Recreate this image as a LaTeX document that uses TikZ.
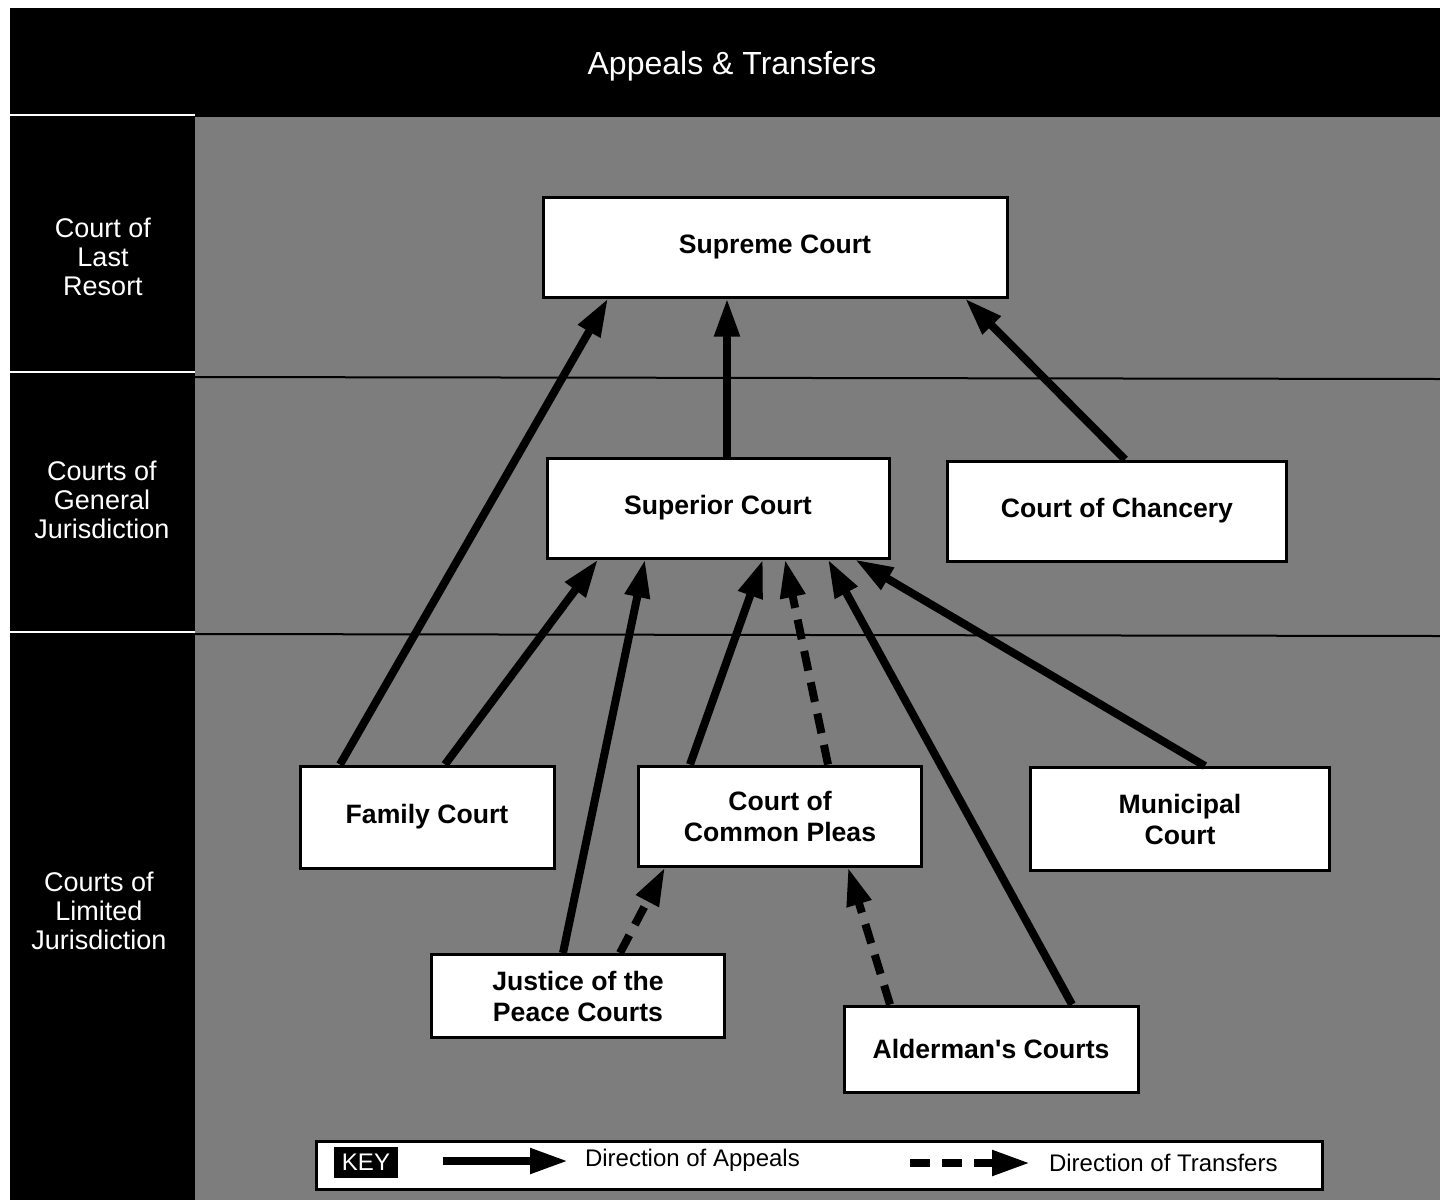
\documentclass[tikz,border=0pt]{standalone}
\usepackage{fontspec}
\setmainfont{Liberation Sans}
\usetikzlibrary{arrows.meta,positioning,calc}
\definecolor{screen}{gray}{0.49}

\begin{document}
\begin{tikzpicture}[
    x=0.5pt, y=-0.5pt,
    court/.style={draw, line width=1.5pt, fill=white, inner sep=0pt, align=center, font=\fontsize{13.3}{15.5}\selectfont\bfseries},
    tier/.style={text=white, align=center, font=\fontsize{13.5}{14.5}\selectfont},
    keytext/.style={anchor=west, font=\fontsize{12}{14}\selectfont},
    appeal/.style={line width=4pt, -{Triangle[length=19pt,width=12pt]}},
    transfer/.style={appeal, dash pattern=on 10pt off 6pt}
]
\useasboundingbox (0,0) rectangle (1440,1200);

% frame and shaded field
\fill[black] (10,8) rectangle (1440,1200);
\fill[screen] (195,117) rectangle (1440,1200);
\draw[white, line width=1pt] (10,115) -- (195,115);
\draw[white, line width=1pt] (10,372) -- (195,372);
\draw[white, line width=1pt] (10,632) -- (195,632);
\draw[black, line width=1pt] (195,377) -- (1440,379);
\draw[black, line width=1pt] (195,634) -- (1440,636);

\node[text=white, font=\fontsize{16}{18}\selectfont] (title) at (732,66) {Appeals \& Transfers};
\node[tier] (last) at (103,257) {Court of\\Last\\Resort};
\node[tier] (general) at (102,500) {Courts of\\General\\Jurisdiction};
\node[tier] (limited) at (99,911) {Courts of\\Limited\\Jurisdiction};

% courts
\node[court, minimum width=232pt, minimum height=50pt] (supreme) at (775,247) {Supreme Court};
\node[court, minimum width=171pt, minimum height=50pt] (superior) at (718,508) {Superior Court};
\node[court, minimum width=169.5pt, minimum height=50pt] (chancery) at (1117,511) {Court of Chancery};
\node[court, minimum width=127pt, minimum height=51pt] (family) at (427,817) {Family Court};
\node[court, minimum width=141.5pt, minimum height=50pt] (pleas) at (780,816) {Court of\\Common Pleas};
\node[court, minimum width=149.5pt, minimum height=51.5pt] (municipal) at (1180,819) {Municipal\\Court};
\node[court, minimum width=146.5pt, minimum height=41.5pt] (peace) at (578,996) {Justice of the\\Peace Courts};
\node[court, minimum width=147pt, minimum height=43pt] (alderman) at (991,1049) {Alderman\textquotesingle s Courts};

% appeals
\draw[appeal] ([xshift=-43.5pt]family.north) -- ([xshift=-83.5pt]supreme.south);
\draw[appeal] ([xshift=9pt]family.north) -- ([xshift=-60pt]superior.south);
\draw[appeal] ([xshift=4.5pt]superior.north) -- ([xshift=-24pt]supreme.south);
\draw[appeal] ([xshift=4pt]chancery.north) -- ([xshift=95pt]supreme.south);
\draw[appeal] ([xshift=-7.5pt]peace.north) -- ([xshift=-36.5pt]superior.south);
\draw[appeal] ([xshift=-45pt]pleas.north) -- ([xshift=22.5pt]superior.south);
\draw[appeal] ([xshift=40.5pt]alderman.north) -- ([xshift=55pt]superior.south);
\draw[appeal] ([xshift=12.5pt]municipal.north) -- ([xshift=68.5pt]superior.south);

% transfers
\draw[transfer] ([xshift=24pt]pleas.north) -- ([xshift=33.5pt]superior.south);
\draw[transfer] ([xshift=21pt]peace.north) -- ([xshift=-57.5pt]pleas.south);
\draw[transfer] ([xshift=-50.5pt]alderman.north) -- ([xshift=34pt]pleas.south);

% key
\node[draw, line width=1.5pt, fill=white, minimum width=503pt, minimum height=24pt, inner sep=0pt] (key) at (819,1165) {};
\node[fill=black, text=white, minimum width=32pt, minimum height=15.5pt, inner sep=0pt, font=\fontsize{12}{12}\selectfont] (keylabel) at (366,1162) {KEY};
\coordinate (appealfrom) at (443,1161);
\coordinate (appealto) at (568,1161);
\draw[appeal] (appealfrom) -- (appealto);
\node[keytext] (appealtext) at (578,1160) {Direction of Appeals};
\coordinate (transferfrom) at (910,1163);
\coordinate (transferto) at (1030,1163);
\draw[transfer] (transferfrom) -- (transferto);
\node[keytext] (transfertext) at (1042,1163) {Direction of Transfers};
\end{tikzpicture}
\end{document}
